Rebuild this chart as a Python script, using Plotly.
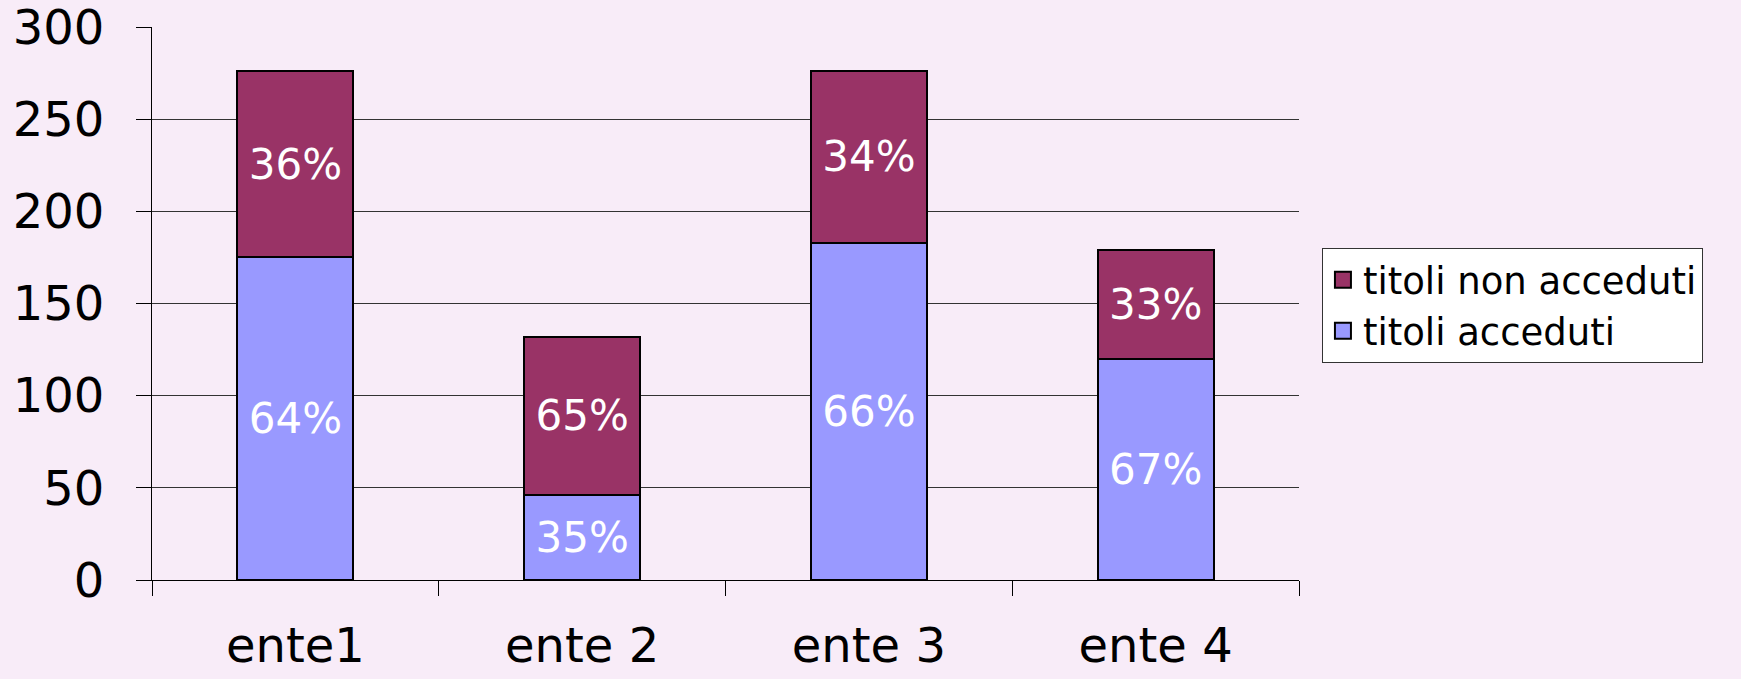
import plotly.graph_objects as go

# dati
enti = ["ente1", "ente 2", "ente 3", "ente 4"]
acceduti = [175, 46, 183, 120]
non_acceduti = [101, 86, 93, 59]
pct_acceduti = ["64%", "35%", "66%", "67%"]
pct_non_acceduti = ["36%", "65%", "34%", "33%"]

bg = "#F8ECF8"
font = "DejaVu Sans"
col_acc = "#9999FF"
col_non = "#993366"

fig = go.Figure()
fig.add_trace(go.Bar(
    x=enti, y=acceduti, name="titoli acceduti", showlegend=False,
    marker=dict(color=col_acc, line=dict(color="black", width=2)),
    text=pct_acceduti, textposition="inside", insidetextanchor="middle",
    textangle=0, constraintext="none",
    textfont=dict(color="white", size=42, family=font),
))
fig.add_trace(go.Bar(
    x=enti, y=non_acceduti, name="titoli non acceduti", showlegend=False,
    marker=dict(color=col_non, line=dict(color="black", width=2)),
    text=pct_non_acceduti, textposition="inside", insidetextanchor="middle",
    textangle=0, constraintext="none",
    textfont=dict(color="white", size=42, family=font),
))

# voci di legenda con quadratini più grandi
for nome, col, grp in [("titoli acceduti", col_acc, "a"), ("titoli non acceduti", col_non, "b")]:
    fig.add_trace(go.Scatter(
        x=[None], y=[None], mode="markers", name=nome, legendgroup=grp,
        marker=dict(symbol="square", size=16, color=col, line=dict(color="black", width=2)),
    ))

fig.update_layout(
    barmode="stack",
    bargap=0.595,
    width=1741, height=679,
    margin=dict(l=152, r=442, t=27, b=99, autoexpand=False),
    paper_bgcolor=bg, plot_bgcolor=bg,
    font=dict(family=font, color="black"),
    showlegend=True,
    legend=dict(
        x=1.02, y=0.6, xanchor="left", yanchor="top",
        traceorder="reversed", tracegroupgap=8,
        bgcolor="white", bordercolor="#333333", borderwidth=1,
        font=dict(size=37, family=font, color="black"),
    ),
    xaxis=dict(
        automargin=False,
        showline=True, linecolor="black", linewidth=1,
        ticks="outside", tickson="boundaries", ticklen=15,
        tickcolor="black", ticklabelstandoff=23,
        ticklabeloverflow="allow",
        tickfont=dict(size=48, family=font, color="black"),
        showgrid=False,
    ),
    yaxis=dict(
        automargin=False,
        range=[0, 300], tick0=0, dtick=50,
        showline=True, linecolor="black", linewidth=1,
        ticks="outside", ticklen=15, tickcolor="black",
        ticklabelstandoff=22, ticklabeloverflow="allow",
        tickfont=dict(size=48, family=font, color="black"),
        showgrid=True, gridcolor="#333333", gridwidth=1,
        zeroline=False,
    ),
)

# togli il margine della pagina così la figura riempie la finestra
fig.write_html(
    "out.html",
    config={"displayModeBar": False},
    post_script="document.body.style.margin='0';document.body.style.background='%s';" % bg,
)
